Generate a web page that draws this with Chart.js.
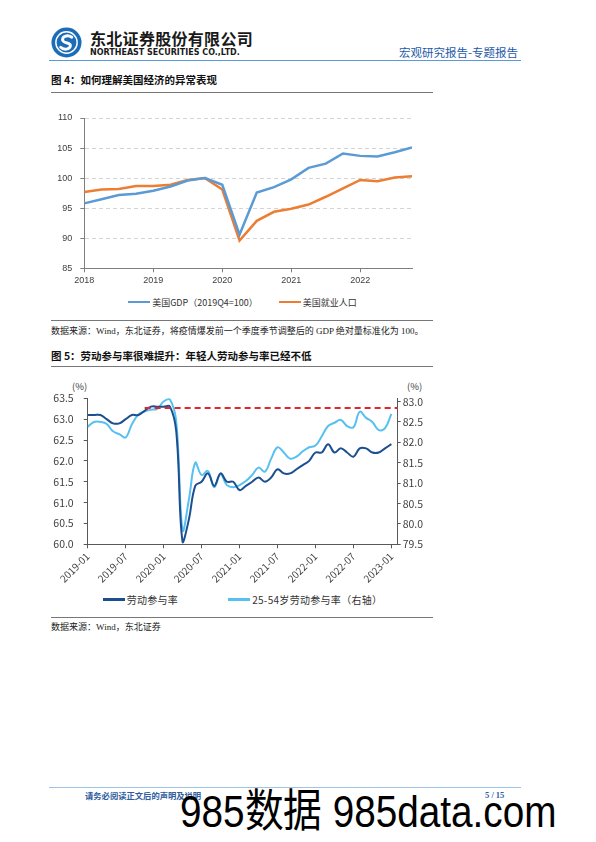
<!DOCTYPE html>
<html lang="zh-CN">
<head>
<meta charset="utf-8">
<title>宏观研究报告-专题报告</title>
<script src="https://cdn.jsdelivr.net/npm/chart.js@4.4.1/dist/chart.umd.min.js"></script>
<style>
  html, body { margin: 0; padding: 0; background: #fff; }
  body { width: 596px; height: 842px; position: relative; overflow: hidden; font-family: "Noto Sans CJK SC", sans-serif; color: #222; }
  .abs { position: absolute; white-space: nowrap; }
  .rule { position: absolute; height: 0; }
  canvas { position: absolute; }
  .company { left: 90px; top: 29px; font-size: 16px; line-height: 18px; font-weight: 700; letter-spacing: 0.3px; color: #1a1a1a; }
  .company-en { left: 90px; top: 48px; font-family: "DejaVu Sans", sans-serif; font-size: 8px; line-height: 9px; font-weight: 700; color: #1a1a1a; }
  .report-type { left: 399px; top: 45px; font-size: 11.5px; line-height: 14px; color: #2459a8; }
  .caption { left: 51px; font-size: 10.5px; line-height: 12px; font-weight: 700; color: #111; }
  .source { left: 51px; font-family: "Liberation Serif", "Noto Sans CJK SC", serif; font-size: 9px; line-height: 10px; color: #222; }
  .pct { font-size: 9.5px; line-height: 10px; color: #404040; }
  .legend { position: absolute; left: 40px; width: 405px; display: flex; justify-content: center; align-items: center; color: #333; }
  .legend .item { display: flex; align-items: center; white-space: nowrap; }
  .legend .item i { display: inline-block; width: 22px; height: 2.5px; margin-right: 2px; }
  .footer-note { left: 85px; top: 790px; font-size: 8.3px; line-height: 10px; font-weight: 700; color: #2e5c9e; }
  .page-no { left: 485px; top: 790px; font-family: "Liberation Serif", serif; font-size: 8.5px; line-height: 10px; font-weight: 700; color: #2e5c9e; }
  .watermark { left: 180px; top: 789px; font-family: "Liberation Sans", sans-serif; font-size: 45px; line-height: 45px; color: #000; transform: scaleX(0.86); transform-origin: left top; }
</style>
</head>
<body>

<svg class="abs" style="left:51px;top:27px" width="31" height="31" viewBox="0 0 32 32">
  <circle cx="16" cy="16" r="15.5" fill="#1b6db8"/>
  <circle cx="16" cy="16" r="11" fill="none" stroke="#fff" stroke-width="1.5"/>
  <path d="M21.5 10.5 C17 7.5 10 10 12.5 14.5 C14.5 17.5 20.5 15.5 20 19.5 C19.5 23.5 13 24 10 21" fill="none" stroke="#fff" stroke-width="3" stroke-linecap="round"/>
</svg>
<div class="abs company">东北证券股份有限公司</div>
<div class="abs company-en">NORTHEAST SECURITIES CO.,LTD.</div>
<div class="abs report-type">宏观研究报告-专题报告</div>
<div class="rule" style="left:49px;top:60px;width:472px;border-top:1.5px solid #5b9bd5"></div>

<div class="abs caption" style="top:74px">图 4：如何理解美国经济的异常表现</div>
<div class="rule" style="left:51px;top:91.5px;width:382px;border-top:1px solid #777"></div>
<canvas id="gdpChart" width="390" height="188" style="left:40px;top:100px"></canvas>
<div class="legend" id="gdpLegend" style="top:296px;height:12px;font-size:9px;gap:21px"></div>
<div class="rule" style="left:51px;top:319.5px;width:382px;border-top:1px solid #777"></div>
<div class="abs source" style="top:326px">数据来源：Wind，东北证券，将疫情爆发前一个季度季节调整后的 GDP 绝对量标准化为 100。</div>

<div class="abs caption" style="top:350px">图 5：劳动参与率很难提升：年轻人劳动参与率已经不低</div>
<div class="rule" style="left:51px;top:365.5px;width:382px;border-top:1px solid #777"></div>
<div class="abs pct" style="left:72px;top:381px">(%)</div>
<div class="abs pct" style="left:407px;top:381px">(%)</div>
<canvas id="lfprChart" width="390" height="210" style="left:40px;top:375px"></canvas>
<div class="legend" id="lfprLegend" style="top:593px;height:13px;font-size:10px;gap:50px;letter-spacing:0.3px"></div>
<div class="rule" style="left:51px;top:617px;width:382px;border-top:1px solid #777"></div>
<div class="abs source" style="top:622px">数据来源：Wind，东北证券</div>

<div class="rule" style="left:49px;top:787px;width:472px;border-top:1.5px solid #9dc3e6"></div>
<div class="abs footer-note">请务必阅读正文后的声明及说明</div>
<div class="abs page-no">5 / 15</div>
<div class="abs watermark">985数据 985data.com</div>

<script>
// 图4：美国GDP与就业人口（2019Q4=100）
const quarters = ['2018Q1', '2018Q2', '2018Q3', '2018Q4', '2019Q1', '2019Q2', '2019Q3', '2019Q4',
  '2020Q1', '2020Q2', '2020Q3', '2020Q4', '2021Q1', '2021Q2', '2021Q3', '2021Q4',
  '2022Q1', '2022Q2', '2022Q3', '2022Q4'];
const usGdp = [95.8, 96.5, 97.2, 97.4, 97.9, 98.6, 99.6, 100.0, 98.9, 90.6,
  97.6, 98.5, 99.8, 101.7, 102.4, 104.1, 103.7, 103.6, 104.3, 105.1];
const usEmployment = [97.7, 98.1, 98.2, 98.7, 98.7, 98.9, 99.7, 100.0, 98.1, 89.6,
  92.9, 94.4, 94.9, 95.6, 96.9, 98.3, 99.7, 99.5, 100.1, 100.3];

// 图5：劳动参与率（月度，2019-01 至 2023-01）
const monthTicks = ['2019-01', '2019-07', '2020-01', '2020-07', '2021-01', '2021-07', '2022-01', '2022-07', '2023-01'];
const participation = [63.1, 63.1, 63.1, 63.0, 62.9, 62.9, 63.0, 63.1, 63.1, 63.2,
  63.3, 63.3, 63.3, 63.3, 62.7, 60.05, 60.6, 61.4, 61.5, 61.7,
  61.4, 61.7, 61.5, 61.5, 61.3, 61.4, 61.5, 61.6, 61.5, 61.6,
  61.8, 61.7, 61.7, 61.8, 61.9, 62.0, 62.2, 62.2, 62.4, 62.2,
  62.3, 62.2, 62.1, 62.3, 62.3, 62.2, 62.2, 62.3, 62.4];
const participation2554 = [82.38, 82.5, 82.5, 82.45, 82.27, 82.2, 82.12, 82.45, 82.68, 82.76,
  82.8, 82.82, 83.0, 83.05, 82.5, 79.85, 80.6, 81.5, 81.2, 81.3,
  80.9, 81.22, 80.95, 80.9, 80.95, 81.05, 81.2, 81.38, 81.28, 81.6,
  81.88, 81.75, 81.6, 81.65, 81.78, 81.88, 81.92, 82.15, 82.4, 82.48,
  82.55, 82.4, 82.37, 82.75, 82.6, 82.5, 82.3, 82.35, 82.7];
const rightTicks = [79.5, 80.0, 80.5, 81.0, 81.5, 82.0, 82.5, 83.0];
const preCovidLevel = 63.27;
const preCovidFrom = 9; // 2019-10

const toPoints = arr => arr.map((v, i) => ({ x: i, y: v }));

function buildLegend(chart, el) {
  chart.data.datasets.filter(d => d.label).forEach(d => {
    const item = document.createElement('span');
    item.className = 'item';
    item.innerHTML = `<i style="background:${d.borderColor}"></i>${d.label}`;
    el.appendChild(item);
  });
}

const axisGrey = '#7f7f7f';

const gdpChart = new Chart(document.getElementById('gdpChart'), {
  type: 'line',
  data: {
    datasets: [
      { label: '美国GDP（2019Q4=100）', data: toPoints(usGdp), borderColor: '#5b9bd5', borderWidth: 2.5, pointRadius: 0, tension: 0 },
      { label: '美国就业人口', data: toPoints(usEmployment), borderColor: '#ed7d31', borderWidth: 2.5, pointRadius: 0, tension: 0 }
    ]
  },
  options: {
    responsive: false,
    animation: false,
    layout: { padding: { top: 18, right: 18, left: 0, bottom: 0 } },
    plugins: { legend: { display: false }, tooltip: { enabled: false } },
    scales: {
      x: {
        type: 'linear',
        min: 0,
        max: quarters.length - 1,
        afterBuildTicks: s => { s.ticks = quarters.map((q, i) => ({ value: i })).filter(t => quarters[t.value].endsWith('Q1')); },
        afterFit: s => { s.height = 19.7; },
        ticks: { autoSkip: false, maxRotation: 0, padding: 3, color: '#404040', font: { family: 'Liberation Sans', size: 9 }, callback: v => quarters[v].slice(0, 4) },
        grid: { drawOnChartArea: false, tickLength: 4, color: axisGrey },
        border: { color: axisGrey, width: 1 }
      },
      y: {
        min: 85,
        max: 110,
        afterFit: s => { s.width = 44.3; },
        ticks: { stepSize: 5, padding: 8, color: '#404040', font: { family: 'Liberation Sans', size: 9 } },
        grid: { color: '#d4d4d4', tickLength: 4, tickColor: axisGrey },
        border: { color: axisGrey, width: 1, dash: [4, 3] }
      }
    }
  }
});
buildLegend(gdpChart, document.getElementById('gdpLegend'));

const darkBlue = '#1c4f8f';
const lightBlue = '#56c1f0';
const labelFont = { family: 'Noto Sans CJK SC', size: 10.5 };

const lfprChart = new Chart(document.getElementById('lfprChart'), {
  type: 'line',
  data: {
    datasets: [
      { label: '劳动参与率', data: toPoints(participation), yAxisID: 'y', borderColor: darkBlue, borderWidth: 2, pointRadius: 0, tension: 0.4 },
      { label: '25-54岁劳动参与率（右轴）', data: toPoints(participation2554), yAxisID: 'y1', borderColor: lightBlue, borderWidth: 2, pointRadius: 0, tension: 0.4 },
      { data: [{ x: preCovidFrom, y: preCovidLevel }, { x: participation.length, y: preCovidLevel }], yAxisID: 'y', borderColor: '#e0262d', borderWidth: 2, borderDash: [6, 4], pointRadius: 0, order: -1 }
    ]
  },
  options: {
    responsive: false,
    animation: false,
    layout: { padding: { top: 23.3, right: 0, left: 0, bottom: 0 } },
    plugins: { legend: { display: false }, tooltip: { enabled: false } },
    scales: {
      x: {
        type: 'linear',
        min: 0,
        max: participation.length,
        afterBuildTicks: s => { s.ticks = monthTicks.map((m, k) => ({ value: k * 6 })); },
        afterFit: s => { s.height = 40.7; },
        ticks: { autoSkip: false, minRotation: 45, maxRotation: 45, padding: 2, color: '#404040', font: { family: 'Noto Sans CJK SC', size: 10 }, callback: (v, i) => monthTicks[i] },
        grid: { drawOnChartArea: false, tickLength: 4, color: '#595959' },
        border: { color: '#595959', width: 1 }
      },
      y: {
        position: 'left',
        min: 60,
        max: 63.5,
        afterFit: s => { s.width = 47.7; },
        ticks: { stepSize: 0.5, padding: 10, color: '#404040', font: labelFont, callback: v => v.toFixed(1) },
        grid: { drawOnChartArea: false, tickLength: 4, color: '#595959' },
        border: { color: '#595959', width: 1 }
      },
      y1: {
        position: 'right',
        min: 79.5,
        max: 83.08,
        afterBuildTicks: s => { s.ticks = rightTicks.map(v => ({ value: v })); },
        afterFit: s => { s.width = 32.3; },
        ticks: { padding: 2, color: '#404040', font: labelFont, callback: v => v.toFixed(1) },
        grid: { drawOnChartArea: false, tickLength: 3, color: '#595959' },
        border: { color: '#595959', width: 1 }
      }
    }
  }
});
buildLegend(lfprChart, document.getElementById('lfprLegend'));
</script>
</body>
</html>
